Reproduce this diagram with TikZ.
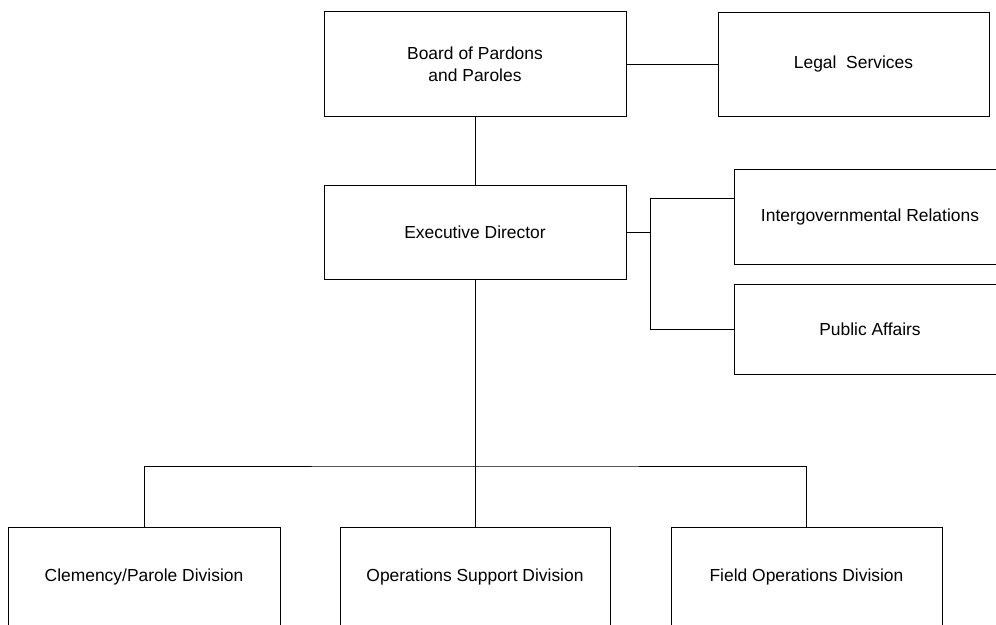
\documentclass[tikz,border=0pt]{standalone}
\usepackage{fontspec}
\setmainfont{Liberation Sans}
\begin{document}
\begin{tikzpicture}[x=0.025cm,y=-0.025cm,
  box/.style={draw=black,line width=0.6pt,fill=white,rectangle,inner sep=0pt,
    align=center,font=\fontsize{12.4}{15.5}\selectfont},
  link/.style={draw=black,line width=0.6pt}]
\useasboundingbox (0,0) rectangle (996,625);
\clip (0,0) rectangle (996,625);

% top tier
\node[box,minimum width=302*0.025cm,minimum height=105*0.025cm] (board) at (475,64) {Board of Pardons\\and Paroles};
\node[box,minimum width=271*0.025cm,minimum height=104*0.025cm] (legal) at (853.5,64) {Legal\ \ Services};
\node[box,minimum width=302*0.025cm,minimum height=94*0.025cm] (exec) at (475,232) {Executive Director};

% staff offices
\node[box,minimum width=272*0.025cm,minimum height=95*0.025cm] (igr) at (870,216.5) {Intergovernmental Relations};
\node[box,minimum width=272*0.025cm,minimum height=90*0.025cm] (pa) at (870,329) {Public Affairs};

% divisions
\node[box,minimum width=272*0.025cm,minimum height=100*0.025cm] (clem) at (144,577) {Clemency/Parole Division};
\node[box,minimum width=270*0.025cm,minimum height=100*0.025cm] (ops) at (475,577) {Operations Support Division};
\node[box,minimum width=271*0.025cm,minimum height=100*0.025cm] (field) at (806.5,577) {Field Operations Division};

% junction points
\coordinate (sj) at (650,232);
\coordinate (sjtop) at (650,198);
\coordinate (bus) at (475,466);

% connectors
\draw[link] (board.east) -- (legal.west);
\draw[link] (board.south) -- (exec.north);
\draw[link] (exec.east) -- (sj);
\draw[link] (sj) -- (sjtop) -- (sjtop -| igr.west);
\draw[link] (sj) |- (pa.west);
\draw[link] (exec.south) -- (ops.north);
\draw[link] (clem.north) |- (bus) -| (field.north);
\end{tikzpicture}
\end{document}
